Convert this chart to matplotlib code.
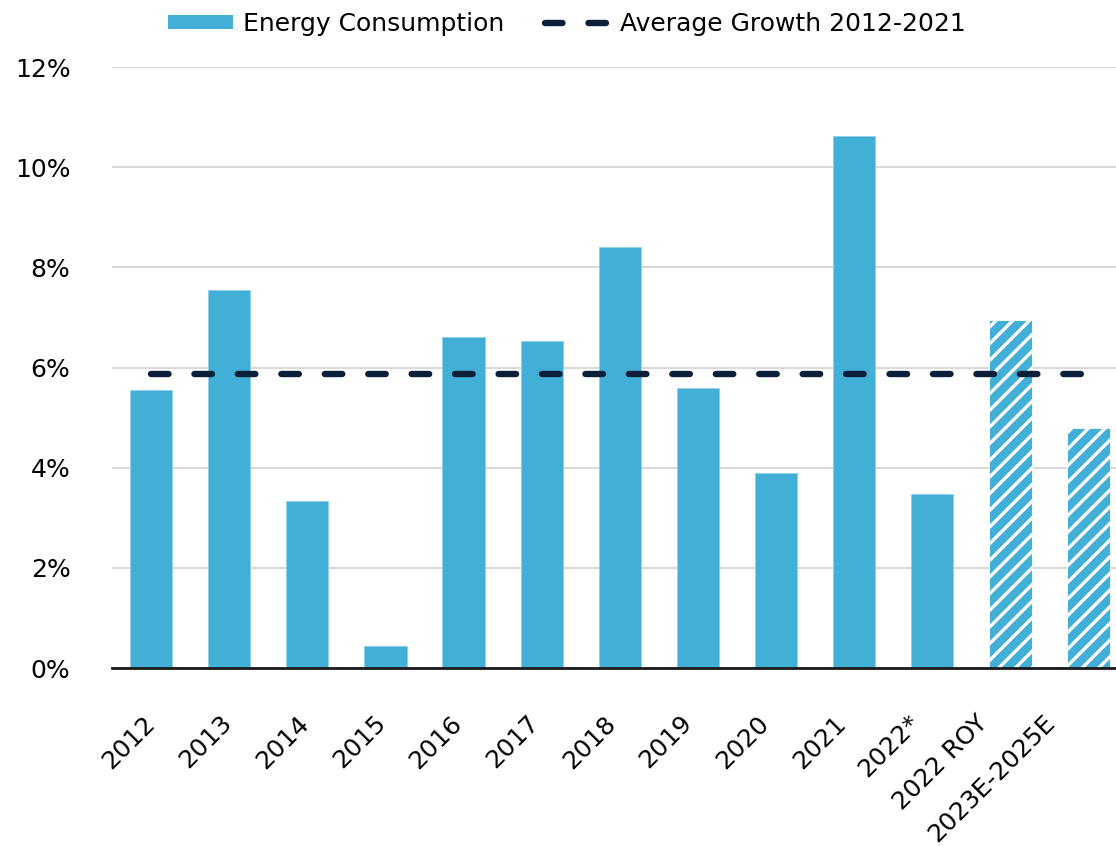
import numpy as np
import matplotlib
matplotlib.use("Agg")
import matplotlib.pyplot as plt
import matplotlib.transforms as mtransforms
from matplotlib.patches import Patch
from matplotlib.lines import Line2D

# Datos
categorias = ["2012", "2013", "2014", "2015", "2016", "2017", "2018", "2019",
              "2020", "2021", "2022*", "2022 ROY", "2023E-2025E"]
consumo = [5.55, 7.55, 3.33, 0.44, 6.61, 6.53, 8.41, 5.59, 3.89, 10.62, 3.47, 6.95, 4.79]
estimado = [False] * 11 + [True, True]
promedio = 5.87
yticks = [0, 2, 4, 6, 8, 10, 12]

azul = "#42afd6"
marino = "#0b1f3a"
guiones = (2.74, 4.06)

plt.rcParams["font.family"] = ["DejaVu Sans"]
plt.rcParams["hatch.linewidth"] = 2.4
plt.rcParams["hatch.color"] = "white"

fig = plt.figure(figsize=(11.16, 8.46), dpi=100)
ax = fig.add_axes([0.1004, 0.2104, 0.910, 0.7104])

x = np.arange(len(categorias))
for i, (v, e) in enumerate(zip(consumo, estimado)):
    if e:
        ax.bar(x[i], v, width=0.54, color=azul, edgecolor="white", linewidth=0.6,
               hatch="//", zorder=2)
    else:
        ax.bar(x[i], v, width=0.54, color=azul, edgecolor="#8fd0e8", linewidth=0.6, zorder=2)

ax.plot([x[0], x[-1]], [promedio, promedio], color=marino, lw=4.6,
        dashes=guiones, dash_capstyle="round", zorder=3)

ax.set_xlim(-0.5, len(categorias) - 0.5)
ax.set_ylim(0, 12)
ax.set_yticks(yticks)
ax.set_yticklabels([f"{t}%" for t in yticks])
ax.set_xticks(x)
ax.set_xticklabels(categorias, rotation=45, ha="right", rotation_mode="anchor")
ax.tick_params(axis="y", length=0, pad=30, labelsize=18)
ax.tick_params(axis="x", length=0, pad=31, labelsize=18)

# etiquetas largas se corren un poco a la izquierda, como en Excel
for i, lab in enumerate(ax.get_xticklabels()):
    dx = -8 - 1.4 * i - 3 * (len(lab.get_text()) - 4)
    desplaza = mtransforms.ScaledTranslation(dx / 100, 0, fig.dpi_scale_trans)
    lab.set_transform(lab.get_transform() + desplaza)

ax.grid(axis="y", color="#d9d9d9", lw=1.5, zorder=0)
ax.set_axisbelow(True)
for s in ["top", "right", "left"]:
    ax.spines[s].set_visible(False)
ax.spines["bottom"].set_linewidth(2)
ax.spines["bottom"].set_color("#1a1a1a")
ax.spines["bottom"].set_zorder(4)

handles = [Patch(facecolor=azul, label="Energy Consumption"),
           Line2D([0], [0], color=marino, lw=4.6, dashes=guiones, dash_capstyle="round",
                  label="Average Growth 2012-2021")]
fig.legend(handles=handles, loc="upper center", bbox_to_anchor=(0.508, 1.013), ncol=2,
           frameon=False, fontsize=18, handlelength=2.6, handleheight=0.5,
           columnspacing=1.6, handletextpad=0.4)

fig.savefig("out.png", dpi=100)
